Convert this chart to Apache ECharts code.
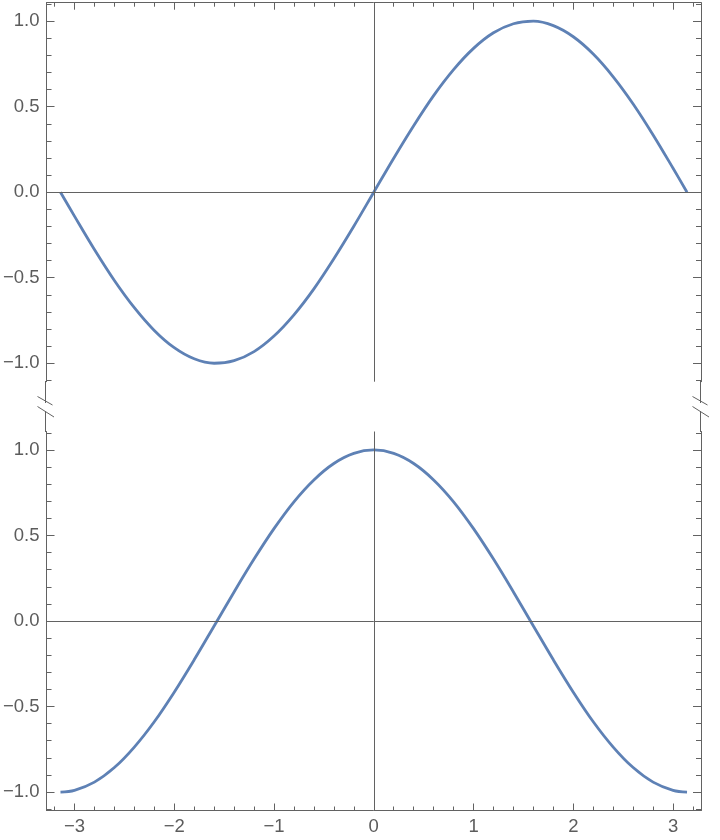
<!DOCTYPE html>
<html>
<head>
<meta charset="utf-8">
<script src="https://cdn.jsdelivr.net/npm/echarts@6/dist/echarts.min.js"></script>
<style>html,body{margin:0;padding:0;background:#fff}#c{width:720px;height:840px}</style>
</head>
<body>
<div id="c"></div>
<script>
// ---- data ----
const xValues = [-3.14,-3.0,-2.8,-2.6,-2.4,-2.2,-2.0,-1.8,-1.6,-1.4,-1.2,-1.0,-0.8,-0.6,-0.4,-0.2,0,
                 0.2,0.4,0.6,0.8,1.0,1.2,1.4,1.6,1.8,2.0,2.2,2.4,2.6,2.8,3.0,3.14];
const topValues = [0.00,-0.14,-0.335,-0.516,-0.675,-0.808,-0.909,-0.974,-1.00,-0.985,-0.932,-0.841,-0.717,-0.565,-0.389,-0.199,0.00,
                   0.199,0.389,0.565,0.717,0.841,0.932,0.985,1.00,0.974,0.909,0.808,0.675,0.516,0.335,0.14,0.00];
const bottomValues = [-1.00,-0.99,-0.942,-0.857,-0.737,-0.589,-0.416,-0.227,-0.029,0.170,0.362,0.540,0.697,0.825,0.921,0.980,1.00,
                      0.980,0.921,0.825,0.697,0.540,0.362,0.170,-0.029,-0.227,-0.416,-0.589,-0.737,-0.857,-0.942,-0.99,-1.00];
const xMajorTicks = [-3,-2,-1,0,1,2,3];
const xMinorTicks = [-3.2,-2.8,-2.6,-2.4,-2.2,-1.8,-1.6,-1.4,-1.2,-0.8,-0.6,-0.4,-0.2,0.2,0.4,0.6,0.8,1.2,1.4,1.6,1.8,2.2,2.4,2.6,2.8,3.2];
const yMajorTicks = [-1,-0.5,0,0.5,1];
const yMinorTicks = [-1.1,-0.9,-0.8,-0.7,-0.6,-0.4,-0.3,-0.2,-0.1,0.1,0.2,0.3,0.4,0.6,0.7,0.8,0.9,1.1];

// ---- styling ----
const FRAME = '#626262';
const LABEL = '#5c5c5c';
const LINE = '#5E81B5';
const FONT = 'Liberation Sans, Arial, sans-serif';
const XMIN = -3.28, XMAX = 3.28, YMIN = -1.108, YMAX = 1.108;
const fmtY = v => (Math.abs(v) < 1e-9 ? '0.0' : v.toFixed(1)).replace('-', '\u2212');
const fmtX = v => String(Math.round(v)).replace('-', '\u2212');

function xAxisDef(grid, pos, major, labels) {
  return {
    type: 'value', gridIndex: grid, position: pos, min: XMIN, max: XMAX,
    axisLine: { show: major, onZero: false, lineStyle: { color: FRAME, width: 1 } },
    axisTick: { show: true, inside: true, length: major ? 7 : 4, customValues: major ? xMajorTicks : xMinorTicks,
                lineStyle: { color: FRAME, width: 1 } },
    axisLabel: labels ? { show: true, customValues: xMajorTicks, formatter: fmtX, color: LABEL,
                          fontSize: 18.5, fontFamily: FONT, margin: 7 } : { show: false },
    splitLine: { show: false }
  };
}
function yAxisDef(grid, pos, major, labels) {
  return {
    type: 'value', gridIndex: grid, position: pos, min: YMIN, max: YMAX,
    axisLine: { show: major, onZero: false, lineStyle: { color: FRAME, width: 1 } },
    axisTick: { show: true, inside: true, length: major ? 8 : 5, customValues: major ? yMajorTicks : yMinorTicks,
                lineStyle: { color: FRAME, width: 1 } },
    axisLabel: labels ? { show: true, customValues: yMajorTicks, formatter: fmtY, color: LABEL,
                          fontSize: 18.5, fontFamily: FONT, margin: 7 } : { show: false },
    splitLine: { show: false }
  };
}

const xAxes = [
  xAxisDef(0, 'top', true, false),
  xAxisDef(0, 'top', false, false),
  xAxisDef(1, 'bottom', true, true),
  xAxisDef(1, 'bottom', false, false)
];
const yAxes = [
  yAxisDef(0, 'left', true, true),
  yAxisDef(0, 'left', false, false),
  yAxisDef(0, 'right', true, false),
  yAxisDef(0, 'right', false, false),
  yAxisDef(1, 'left', true, true),
  yAxisDef(1, 'left', false, false),
  yAxisDef(1, 'right', true, false),
  yAxisDef(1, 'right', false, false)
];

const axisMark = {
  silent: true, symbol: 'none', animation: false,
  label: { show: false },
  lineStyle: { color: FRAME, width: 1, type: 'solid' },
  emphasis: { disabled: true },
  data: [{ xAxis: 0 }, { yAxis: 0 }]
};

function seriesDef(xi, yi, vals) {
  return {
    type: 'line', xAxisIndex: xi, yAxisIndex: yi,
    data: xValues.map((x, i) => [x, vals[i]]),
    smooth: 0.35, showSymbol: false, symbol: 'none',
    lineStyle: { color: LINE, width: 2.8 },
    markLine: axisMark, z: 3
  };
}

// break marks / frame continuation between the panels (decoration)
function brk(x) {
  const st = { stroke: FRAME, lineWidth: 1 };
  return [
    { type: 'line', shape: { x1: x, y1: 381, x2: x, y2: 403 }, style: st },
    { type: 'line', shape: { x1: x, y1: 411, x2: x, y2: 432 }, style: st },
    { type: 'line', shape: { x1: x - 8, y1: 396.5, x2: x + 7, y2: 405 }, style: st },
    { type: 'line', shape: { x1: x - 8, y1: 406.5, x2: x + 8.5, y2: 417 }, style: st }
  ];
}

const chart = echarts.init(document.getElementById('c'), null, { renderer: 'canvas' });
chart.setOption({
  animation: false,
  backgroundColor: '#ffffff',
  grid: [
    { left: 45, top: 2.7, width: 656, height: 379 },
    { left: 45, top: 431.5, width: 656, height: 379 }
  ],
  xAxis: xAxes,
  yAxis: yAxes,
  series: [
    seriesDef(0, 0, topValues),
    seriesDef(2, 4, bottomValues)
  ],
  graphic: [].concat(brk(45.5), brk(700.5))
});
</script>
</body>
</html>
